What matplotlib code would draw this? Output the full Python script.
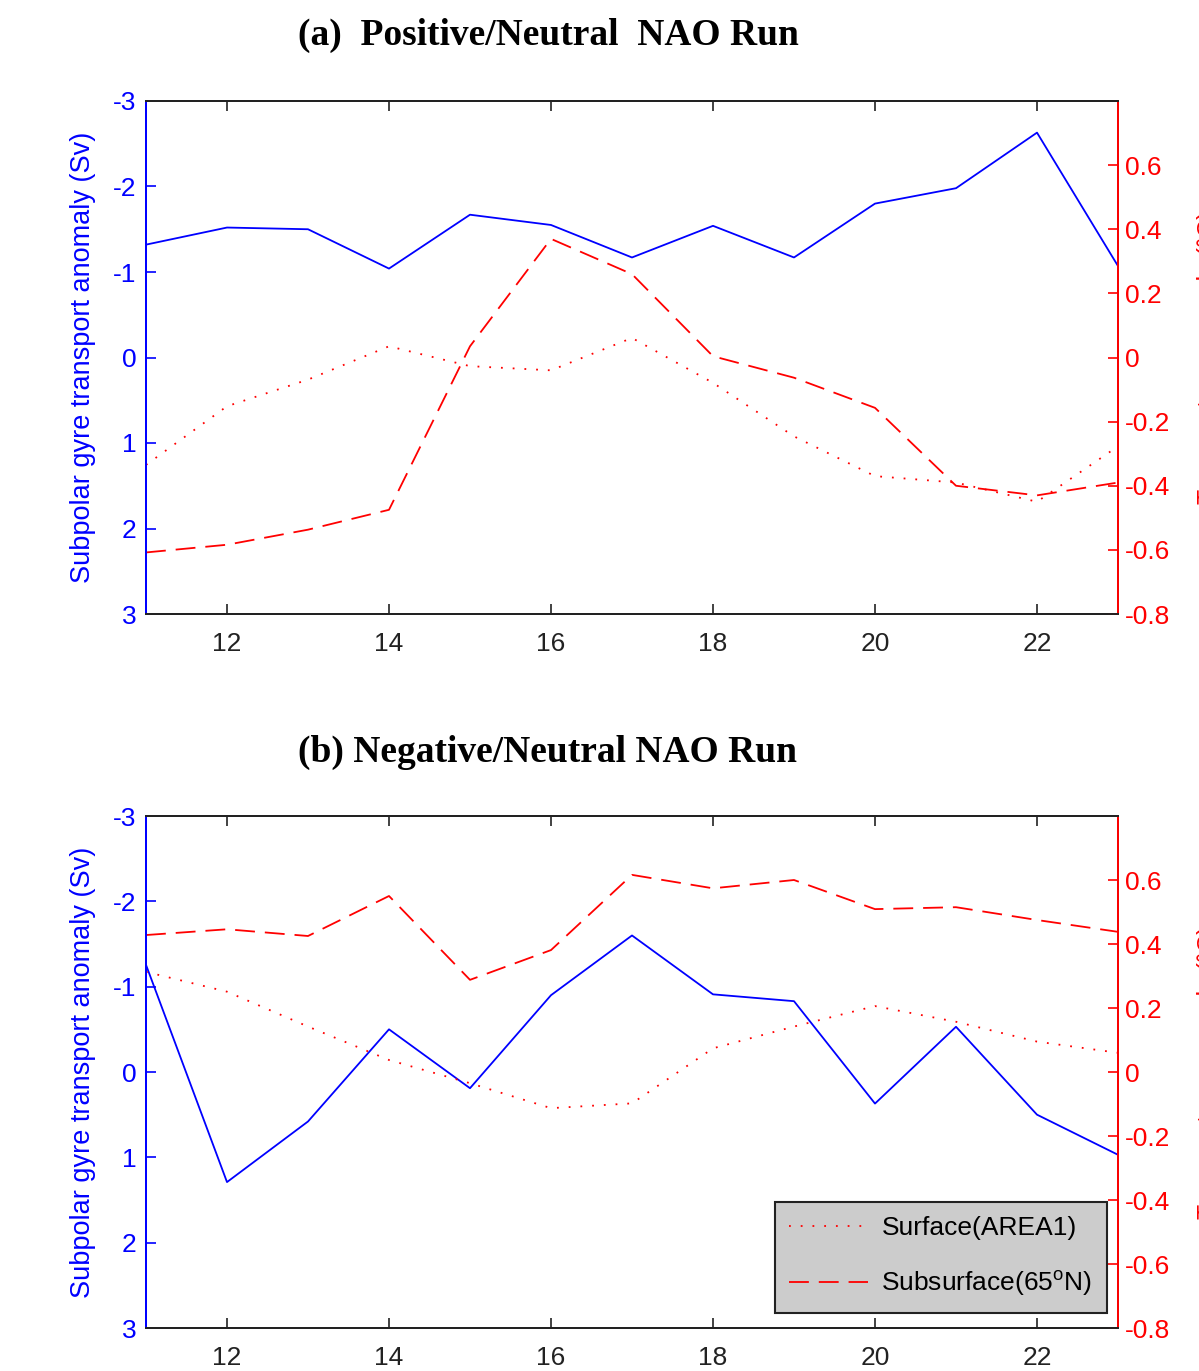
import matplotlib
matplotlib.use("Agg")
import matplotlib.pyplot as plt

plt.rcParams['font.family'] = ['Liberation Sans', 'DejaVu Sans']
plt.rcParams['mathtext.default'] = 'regular'

years = [11, 12, 13, 14, 15, 16, 17, 18, 19, 20, 21, 22, 23]

# (a) positive/neutral NAO run
gyre_a = [-1.32, -1.52, -1.50, -1.04, -1.67, -1.55, -1.17, -1.54, -1.17, -1.80, -1.98, -2.63, -1.07]
surf_a = [-0.335, -0.152, -0.069, 0.035, -0.027, -0.04, 0.061, -0.079, -0.246, -0.37, -0.39, -0.45, -0.277]
sub_a = [-0.608, -0.584, -0.537, -0.475, 0.035, 0.37, 0.26, 0.004, -0.063, -0.157, -0.40, -0.43, -0.39]

# (b) negative/neutral NAO run
gyre_b = [-1.256, 1.29, 0.58, -0.50, 0.19, -0.90, -1.60, -0.91, -0.83, 0.37, -0.53, 0.50, 0.97]
surf_b = [0.313, 0.251, 0.142, 0.0375, -0.035, -0.113, -0.098, 0.074, 0.142, 0.206, 0.157, 0.095, 0.06]
sub_b = [0.428, 0.446, 0.425, 0.55, 0.288, 0.381, 0.616, 0.574, 0.60, 0.509, 0.515, 0.475, 0.438]

left_ticks = [-3, -2, -1, 0, 1, 2, 3]
right_ticks = [-0.8, -0.6, -0.4, -0.2, 0, 0.2, 0.4, 0.6]
right_labels = ['-0.8', '-0.6', '-0.4', '-0.2', '0', '0.2', '0.4', '0.6']
x_ticks = [12, 14, 16, 18, 20, 22]

W, H = 1199, 1371
fig = plt.figure(figsize=(W / 100, H / 100), dpi=100)


def panel(top_px, bottom_px, title, title_y, gyre, surf, sub, legend=False):
    rect = [146 / W, 1 - bottom_px / H, 972 / W, (bottom_px - top_px) / H]
    ax = fig.add_axes(rect)
    ax2 = ax.twinx()

    ax.plot(years, gyre, color='blue', lw=1.3)
    ax2.plot(years, surf, color='red', lw=1.3, ls=(0, (1, 5.5)), label='Surface(AREA1)')
    ax2.plot(years, sub, color='red', lw=1.3, ls=(0, (11, 5.5)), label='Subsurface(65$^{o}$N)')

    ax.set_xlim(11, 23)
    ax.set_ylim(3, -3)
    ax.set_yticks(left_ticks)
    ax.set_yticklabels([str(t) for t in left_ticks])
    ax.set_xticks(x_ticks)
    ax2.set_ylim(-0.8, 0.8)
    ax2.set_yticks(right_ticks)
    ax2.set_yticklabels(right_labels)

    for a in (ax, ax2):
        for s in a.spines.values():
            s.set_linewidth(1.4)
            s.set_color('#222222')
    ax2.spines['left'].set_color('blue')
    ax2.spines['right'].set_color('red')
    ax.spines['left'].set_color('blue')

    ax.tick_params(axis='x', direction='in', length=7, width=1.2, top=True,
                   labelsize=19, pad=13, colors='#222222')
    ax.tick_params(axis='y', direction='in', length=7, width=1.2, colors='blue',
                   labelsize=19, pad=7)
    ax2.tick_params(axis='y', direction='in', length=7, width=1.2, colors='red',
                    labelsize=19, pad=5)

    ax.set_ylabel('Subpolar gyre transport anomaly (Sv)', color='blue', fontsize=19.5)
    ax.yaxis.set_label_coords(-(146 - 96) / 972, 0.5)
    # right-hand label runs off the edge of the figure, as in the original
    ax2.set_ylabel('Temperature anomaly (°C)', color='red', fontsize=18)
    ax2.yaxis.set_label_coords((1197 - 146) / 972, 0.5)

    fig.text(548 / W, 1 - title_y / H, title, ha='center', va='center',
             family='Liberation Serif', weight='bold', fontsize=27)

    if legend:
        leg = ax2.legend(loc='lower right', bbox_to_anchor=(0.9887, 0.0293),
                         borderaxespad=0, fontsize=19, handlelength=3.0,
                         handletextpad=0.5, labelspacing=1.1, borderpad=0.55,
                         fancybox=False, framealpha=1, facecolor='#cccccc',
                         edgecolor='#222222')
        leg.get_frame().set_linewidth(1.5)
    return ax, ax2


panel(101, 614, '(a)  Positive/Neutral  NAO Run', 35, gyre_a, surf_a, sub_a)
panel(816, 1328, '(b) Negative/Neutral NAO Run', 752, gyre_b, surf_b, sub_b, legend=True)

fig.savefig('out.png', dpi=100)
